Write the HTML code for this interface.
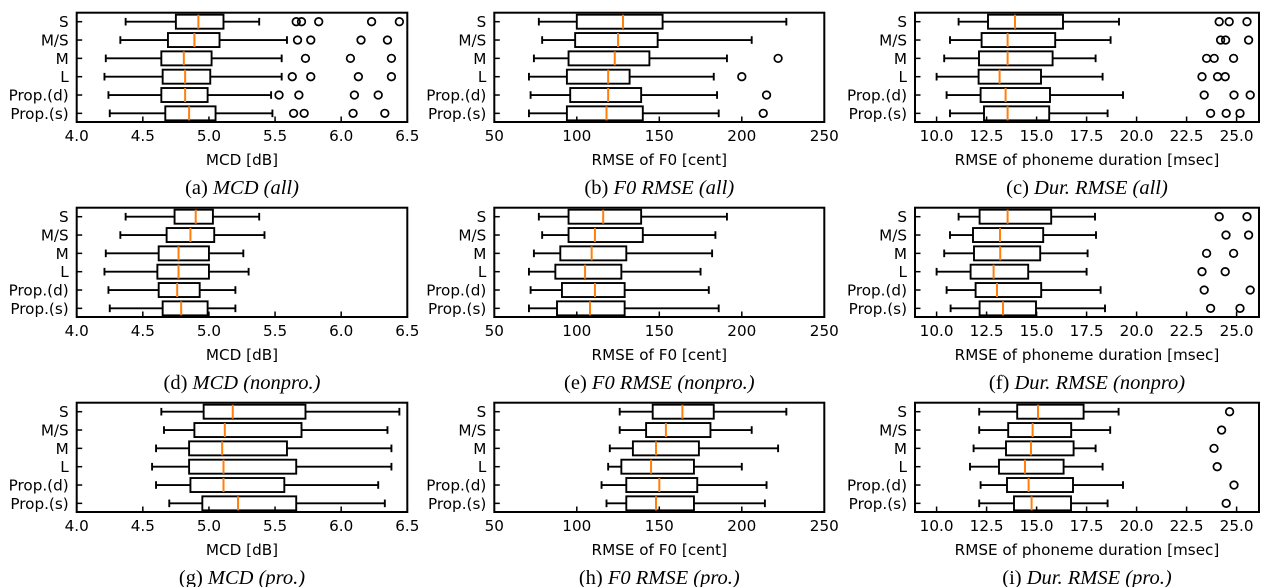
<!DOCTYPE html>
<html><head><meta charset="utf-8"><style>
html,body{margin:0;padding:0;background:#fff;}
svg{display:block;}
</style></head><body>
<svg id="fig" width="1287" height="587" viewBox="0 0 1287 587" xmlns="http://www.w3.org/2000/svg"></svg>
<script>
const categories = ["S","M/S","M","L","Prop.(d)","Prop.(s)"];
// each row: [whisker-low, q1, median, q3, whisker-high]
const mcdAll = [[4.37,4.75,4.92,5.11,5.38],[4.33,4.69,4.89,5.08,5.59],[4.22,4.64,4.81,5.02,5.55],[4.21,4.65,4.82,5.01,5.55],[4.24,4.64,4.82,4.99,5.47],[4.25,4.67,4.85,5.05,5.48]];
const mcdAllOut = [[5.66,5.70,5.83,6.23,6.44],[5.67,5.77,6.15,6.35],[5.73,6.07,6.38],[5.63,5.77,6.13,6.38],[5.53,5.68,6.10,6.28],[5.64,5.72,6.09,6.33]];
const f0All = [[77,100,128,152,227],[79,99,125,149,206],[74,95,123,144,191],[71,94,119,132,183],[72,96,119,139,185],[71,94,118,140,186]];
const f0AllOut = [[],[],[222],[200],[215],[213]];
const durAll = [[11.1,12.57,13.92,16.32,19.12],[10.67,12.25,13.55,15.93,18.7],[10.38,12.12,13.55,15.8,17.95],[10.0,12.1,13.15,15.22,18.3],[10.5,12.2,13.45,15.67,19.32],[10.67,12.37,13.55,15.63,18.55]];
const durAllOut = [[24.13,24.63,25.52],[24.2,24.45,25.6],[23.5,23.88,24.85],[23.27,24.05,24.43],[23.38,24.87,25.68],[23.7,24.48,25.17]];
const mcdNon = [[4.37,4.74,4.90,5.03,5.38],[4.33,4.68,4.86,5.04,5.42],[4.22,4.62,4.77,5.00,5.26],[4.21,4.61,4.77,5.00,5.30],[4.24,4.62,4.76,4.93,5.20],[4.25,4.65,4.79,4.99,5.20]];
const mcdNonOut = [[],[],[],[],[],[]];
const f0Non = [[77,95,116,139,191],[79,95,111,140,184],[74,90,109,130,182],[71,87,105,127,175],[72,91,111,129,180],[71,88,108,129,186]];
const f0NonOut = [[],[],[],[],[],[]];
const durNon = [[11.1,12.15,13.55,15.73,17.92],[10.67,11.82,13.17,15.33,17.97],[10.38,11.87,13.18,15.18,17.55],[10.0,11.7,12.85,14.58,17.5],[10.5,11.95,13.02,15.23,18.2],[10.7,12.15,13.32,14.97,18.42]];
const durNonOut = [[24.13,25.52],[24.47,25.6],[23.5,24.85],[23.27,24.43],[23.38,25.68],[23.7,25.17]];
const mcdPro = [[4.64,4.96,5.18,5.73,6.44],[4.66,4.89,5.12,5.70,6.35],[4.60,4.85,5.10,5.59,6.38],[4.57,4.85,5.11,5.66,6.38],[4.60,4.86,5.11,5.57,6.28],[4.70,4.95,5.22,5.66,6.33]];
const mcdProOut = [[],[],[],[],[],[]];
const f0Pro = [[126,146,164,183,227],[126,142,154,181,206],[120,134,148,174,222],[119,127,145,171,200],[115,130,150,173,215],[118,130,148,171,214]];
const f0ProOut = [[],[],[],[],[],[]];
const durPro = [[12.13,14.03,15.07,17.35,19.1],[12.13,13.58,14.8,16.73,18.68],[11.85,13.47,14.72,16.85,17.95],[11.67,13.12,14.42,16.35,18.3],[12.2,13.52,14.6,16.82,19.32],[12.13,13.87,14.75,16.72,18.55]];
const durProOut = [[24.65],[24.25],[23.87],[24.03],[24.87],[24.48]];
const mcdTicks = ["4.0","4.5","5.0","5.5","6.0","6.5"];
const f0Ticks = ["50","100","150","200","250"];
const durTicks = ["10.0","12.5","15.0","17.5","20.0","22.5","25.0"];

const NS="http://www.w3.org/2000/svg";
const svg=document.getElementById('fig');
function mk(tag,attrs,parent){const e=document.createElementNS(NS,tag);for(const k in attrs)e.setAttribute(k,attrs[k]);(parent||svg).appendChild(e);return e;}
const FONT="'DejaVu Sans', sans-serif";
const FS=15.2;
const cols=[{l:76.7,r:407.3,min:4,max:6.5,ticks:mcdTicks,lab:"MCD [dB]"},
            {l:494.3,r:824.3,min:50,max:250,ticks:f0Ticks,lab:"RMSE of F0 [cent]"},
            {l:915,r:1259,min:8.92,max:26.12,ticks:durTicks,lab:"RMSE of phoneme duration [msec]"}];
const rowsY=[0,195,390];
const panels=[
 [0,0,mcdAll,mcdAllOut,"(a) ","MCD (all)"],[1,0,f0All,f0AllOut,"(b) ","F0 RMSE (all)"],[2,0,durAll,durAllOut,"(c) ","Dur. RMSE (all)"],
 [0,1,mcdNon,mcdNonOut,"(d) ","MCD (nonpro.)"],[1,1,f0Non,f0NonOut,"(e) ","F0 RMSE (nonpro.)"],[2,1,durNon,durNonOut,"(f) ","Dur. RMSE (nonpro)"],
 [0,2,mcdPro,mcdProOut,"(g) ","MCD (pro.)"],[1,2,f0Pro,f0ProOut,"(h) ","F0 RMSE (pro.)"],[2,2,durPro,durProOut,"(i) ","Dur. RMSE (pro.)"]];

panels.forEach((p,pi)=>{
  const c=cols[p[0]], oy=rowsY[p[1]];
  const top=12.7+oy, bot=122+oy;
  const x=v=>c.l+(v-c.min)/(c.max-c.min)*(c.r-c.l);
  const y=i=>21.7+oy+i*18.33;
  const g=mk('g',{});
  
  
  const fr=mk('rect',{x:c.l,y:top,width:c.r-c.l,height:bot-top,fill:'none',stroke:'#000','stroke-width':2},g);
  
  
  c.ticks.forEach(t=>{
    const tx=x(parseFloat(t));
    mk('line',{x1:tx,x2:tx,y1:bot,y2:bot-5.5,stroke:'#000','stroke-width':1.5},g);
    const tl=mk('text',{x:tx,y:bot+19,'text-anchor':'middle','font-size':FS,'font-family':FONT,fill:'#000'},g);
    tl.textContent=t;
    
    
  });
  const xl=mk('text',{x:(c.l+c.r)/2,y:bot+43,'text-anchor':'middle','font-size':FS,'font-family':FONT},g);
  xl.textContent=c.lab;
  
  
  const cap=mk('text',{x:(c.l+c.r)/2,y:bot+72,'text-anchor':'middle','font-size':20.5,'font-family':"'Liberation Serif', serif"},g);
  
  
  const s1=mk('tspan',{},cap); s1.textContent=p[4];
  const s2=mk('tspan',{'font-style':'italic'},cap); s2.textContent=p[5];
  categories.forEach((cat,i)=>{
    const cy=y(i), d=p[2][i];
    mk('line',{x1:c.l,x2:c.l+5.5,y1:cy,y2:cy,stroke:'#000','stroke-width':1.5},g);
    const yl=mk('text',{x:c.l-8,y:cy+5.5,'text-anchor':'end','font-size':FS,'font-family':FONT},g);
    yl.textContent=cat;
    
    
    const bg=mk('g',{},g);
    
    
    const st={stroke:'#000','stroke-width':1.9};
    mk('line',Object.assign({x1:x(d[0]),x2:x(d[1]),y1:cy,y2:cy},st),bg);
    mk('line',Object.assign({x1:x(d[3]),x2:x(d[4]),y1:cy,y2:cy},st),bg);
    mk('line',Object.assign({x1:x(d[0]),x2:x(d[0]),y1:cy-3.8,y2:cy+3.8},st),bg);
    mk('line',Object.assign({x1:x(d[4]),x2:x(d[4]),y1:cy-3.8,y2:cy+3.8},st),bg);
    mk('rect',Object.assign({x:x(d[1]),y:cy-7,width:x(d[3])-x(d[1]),height:14,fill:'none'},st),bg);
    mk('line',{x1:x(d[2]),x2:x(d[2]),y1:cy-7,y2:cy+7,stroke:'#ff7f0e','stroke-width':2},bg);
    p[3][i].forEach(o=>{
      const ci=mk('circle',{cx:x(o),cy:cy,r:3.8,fill:'none',stroke:'#000','stroke-width':1.7},bg);
      
      
    });
  });
});
</script>
</body></html>
